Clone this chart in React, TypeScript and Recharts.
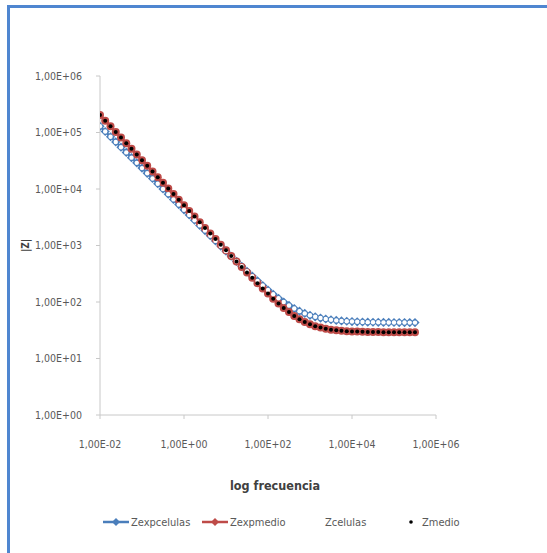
import { Line, LineChart, XAxis, YAxis } from 'recharts';

const FONT = "'DejaVu Sans Condensed', 'DejaVu Sans', sans-serif";

// frecuencia (Hz), 8 puntos por decada
const FREQ = [
  0.01, 0.0133, 0.0178, 0.0237, 0.0316, 0.0422, 0.0562, 0.075,
  0.1, 0.133, 0.178, 0.237, 0.316, 0.422, 0.562, 0.75,
  1, 1.33, 1.78, 2.37, 3.16, 4.22, 5.62, 7.5,
  10, 13.3, 17.8, 23.7, 31.6, 42.2, 56.2, 75,
  100, 133, 178, 237, 316, 422, 562, 750,
  1000, 1330, 1780, 2370, 3160, 4220, 5620, 7500,
  10000, 13300, 17800, 23700, 31600, 42200, 56200, 75000,
  100000, 133000, 178000, 237000, 316000,
];

const Z_EXP_CELULAS = [
  128800, 104100, 84160, 68020, 54970, 44430, 35910, 29020,
  23460, 18970, 15330, 12400, 10020, 8099, 6548, 5296,
  4283, 3464, 2803, 2269, 1837, 1488, 1206, 978.5,
  794.4, 645.7, 525.6, 428.7, 350.5, 287.5, 236.8, 195.9,
  163.2, 137, 116.2, 99.8, 86.9, 76.7, 68.9, 62.8,
  58.2, 54.7, 52, 50, 48.5, 47.2, 46.3, 45.6,
  45.1, 44.6, 44.3, 44, 43.8, 43.7, 43.55, 43.45,
  43.35, 43.3, 43.25, 43.2, 43.15,
];

const Z_EXP_MEDIO = [
  204000, 162000, 129000, 102000, 81310, 64610, 51310, 40710,
  32410, 25710, 20410, 16210, 12910, 10210, 8139, 6469,
  5139, 4079, 3249, 2579, 2049, 1629, 1299, 1029,
  822, 655, 522.7, 416.9, 334, 267.4, 214.7, 173.1,
  140.7, 114.3, 94.3, 78.6, 66.3, 56.8, 49.7, 44.2,
  40.3, 37.3, 35.2, 33.6, 32.4, 31.6, 31, 30.5,
  30.2, 29.9, 29.7, 29.55, 29.4, 29.3, 29.2, 29.2,
  29.1, 29.1, 29.1, 29.1, 29.1,
];

const Z_CELULAS = [
  128800, 104100, 84160, 68020, 54970, 44430, 35910, 29020,
  23460, 18970, 15330, 12400, 10020, 8099, 6548, 5296,
  4283, 3464, 2803, 2269, 1837, 1488, 1206, 978.5,
  794.4, 645.7, 525.6, 428.7, 350.5, 287.5, 236.8, 195.9,
  163.2, 137, 116.2, 99.8, 86.9, 76.7, 68.9, 62.8,
  58.2, 54.7, 52, 50, 48.5, 47.2, 46.3, 45.6,
  45.1, 44.6, 44.3, 44, 43.8, 43.7, 43.55, 43.45,
  43.35, 43.3, 43.25, 43.2, 43.15,
];

const Z_MEDIO = [
  204000, 162000, 129000, 102000, 81310, 64610, 51310, 40710,
  32410, 25710, 20410, 16210, 12910, 10210, 8139, 6469,
  5139, 4079, 3249, 2579, 2049, 1629, 1299, 1029,
  822, 655, 522.7, 416.9, 334, 267.4, 214.7, 173.1,
  140.7, 114.3, 94.3, 78.6, 66.3, 56.8, 49.7, 44.2,
  40.3, 37.3, 35.2, 33.6, 32.4, 31.6, 31, 30.5,
  30.2, 29.9, 29.7, 29.55, 29.4, 29.3, 29.2, 29.2,
  29.1, 29.1, 29.1, 29.1, 29.1,
];

const X_TICKS = [0.01, 1, 100, 10000, 1000000];
const Y_TICKS = [1, 10, 100, 1000, 10000, 100000, 1000000];

const BLUE = '#4A7EBB';
const RED = '#BE4B48';
const AXIS = '#C8C8C8';
const TEXT = '#595959';

const rows = FREQ.map((f, i) => ({
  f,
  zExpCel: Z_EXP_CELULAS[i],
  zExpMed: Z_EXP_MEDIO[i],
  zCel: Z_CELULAS[i],
  zMed: Z_MEDIO[i],
}));

// formato tipo Excel: 1,00E+03
const sci = (v: number) => {
  const e = Math.round(Math.log10(v));
  return `1,00E${e < 0 ? '-' : '+'}${String(Math.abs(e)).padStart(2, '0')}`;
};

const Diamond = (p: any) => {
  const { cx, cy, index } = p;
  if (cx == null || cy == null) return <g key={index} />;
  const r = 4.6;
  return <path key={index} d={`M${cx},${cy - r}L${cx + r},${cy}L${cx},${cy + r}L${cx - r},${cy}Z`} fill={BLUE} />;
};

const Dot = (fill: string, r: number) => (p: any) => {
  const { cx, cy, index } = p;
  if (cx == null || cy == null) return <g key={index} />;
  return <circle key={index} cx={cx} cy={cy} r={r} fill={fill} />;
};

const legendItems = [
  { name: 'Zexpcelulas', color: BLUE, line: true, left: 103 },
  { name: 'Zexpmedio', color: RED, line: true, left: 202 },
  { name: 'Zcelulas', color: '#ffffff', line: false, left: 297 },
  { name: 'Zmedio', color: '#000000', line: false, left: 406 },
];

export default function App() {
  const tick = { fill: TEXT, fontSize: 10.5, fontFamily: FONT, fontStretch: 'condensed' };
  return (
    <div style={{ position: 'fixed', left: 0, top: 0, width: 547, height: 553, background: '#fff', overflow: 'hidden', fontFamily: FONT, fontStretch: 'condensed' }}>
      <div style={{ position: 'absolute', left: 7, top: 5, width: 620, height: 620, borderLeft: '3px solid #4F86D0', borderTop: '3px solid #4F86D0' }} />
      <div style={{ position: 'absolute', left: 0, top: 0 }}>
        <LineChart width={547} height={553} data={rows} margin={{ top: 76, right: 111, bottom: 108, left: 20 }}>
          <XAxis
            dataKey="f"
            type="number"
            scale="log"
            domain={[0.01, 1000000]}
            ticks={X_TICKS}
            tickFormatter={sci}
            height={30}
            stroke={AXIS}
            tick={tick}
            tickSize={4}
            tickMargin={22}
            allowDataOverflow
          />
          <YAxis
            type="number"
            scale="log"
            domain={[1, 1000000]}
            ticks={Y_TICKS}
            tickFormatter={sci}
            width={80}
            stroke={AXIS}
            tick={tick}
            tickSize={4}
            tickMargin={14}
            allowDataOverflow
            label={{ value: '|Z|', angle: -90, position: 'insideLeft', offset: 5, style: { fill: '#404040', fontSize: 10, fontWeight: 'bold', fontFamily: FONT, textAnchor: 'middle' } }}
          />
          <Line dataKey="zExpCel" stroke={BLUE} strokeWidth={2.5} dot={Diamond} isAnimationActive={false} />
          <Line dataKey="zExpMed" stroke={RED} strokeWidth={2.5} dot={Dot(RED, 4)} isAnimationActive={false} />
          <Line dataKey="zCel" stroke="none" dot={Dot('#ffffff', 2.2)} isAnimationActive={false} />
          <Line dataKey="zMed" stroke="none" dot={Dot('#000000', 2)} isAnimationActive={false} />
        </LineChart>
      </div>
      <span style={{ position: 'absolute', left: 275, top: 478, transform: 'translateX(-50%)', whiteSpace: 'nowrap', fontSize: 12.5, fontWeight: 'bold', color: '#404040' }}>
        log frecuencia
      </span>
      {legendItems.map((it) => (
        <div key={it.name} style={{ position: 'absolute', left: it.left, top: 514, height: 16, display: 'flex', alignItems: 'center', fontSize: 11, color: TEXT, whiteSpace: 'nowrap' }}>
          <svg width={26} height={16} style={{ marginRight: 2 }}>
            {it.line && <line x1={0} y1={8} x2={26} y2={8} stroke={it.color} strokeWidth={2.5} />}
            {it.line && <path d="M13,4L17,8L13,12L9,8Z" fill={it.color} />}
            {!it.line && <circle cx={it.name === 'Zmedio' ? 5 : 13} cy={8} r={1.8} fill={it.color} />}
          </svg>
          <span style={{ marginLeft: it.name === 'Zmedio' ? -12 : 0 }}>{it.name}</span>
        </div>
      ))}
    </div>
  );
}
